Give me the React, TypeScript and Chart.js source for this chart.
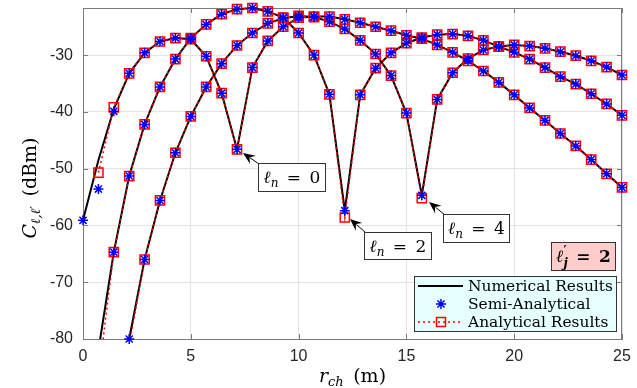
import React, { useEffect, useRef } from 'react';
import { Chart, registerables } from 'chart.js';

Chart.register(...registerables);

// ---- data -------------------------------------------------------------
const rCh = [0, 0.714, 1.429, 2.143, 2.857, 3.571, 4.286, 5.0, 5.714, 6.429, 7.143, 7.857,
  8.571, 9.286, 10.0, 10.714, 11.429, 12.143, 12.857, 13.571, 14.286, 15.0, 15.714, 16.429,
  17.143, 17.857, 18.571, 19.286, 20.0, 20.714, 21.429, 22.143, 22.857, 23.571, 24.286, 25.0];

// l_n = 0
const numL0 = [-59.1, -48.5, -39.5, -33.2, -29.6, -27.6, -27.0, -27.2, -30.2, -36.7, -46.6, -32.2,
  -27.5, -25.0, -23.4, -23.2, -23.2, -23.7, -24.3, -25.0, -25.7, -26.5, -27.1, -28.2,
  -29.5, -31.0, -32.8, -34.8, -37.0, -39.3, -41.5, -43.8, -46.0, -48.4, -50.9, -53.3];
const semiL0 = [-59.1, -53.6, -39.9, -33.2, -29.6, -27.6, -27.0, -27.2, -30.2, -36.7, -46.6, -32.2,
  -27.5, -25.0, -23.4, -23.2, -23.2, -23.7, -24.3, -25.0, -25.7, -26.5, -27.1, -28.2,
  -29.5, -31.0, -32.8, -34.8, -37.0, -39.3, -41.5, -43.8, -46.0, -48.4, -50.9, -53.3];
const anaL0 = [null, -50.7, -39.2, -33.2, -29.6, -27.6, -27.0, -27.2, -30.2, -36.7, -46.6, -32.2,
  -27.5, -25.0, -23.4, -23.2, -23.2, -23.7, -24.3, -25.0, -25.7, -26.5, -27.1, -28.2,
  -29.5, -31.0, -32.8, -34.8, -37.0, -39.3, -41.5, -43.8, -46.0, -48.4, -50.9, -53.3];

// l_n = 2
const numL2 = [-96, -82.0, -64.7, -51.3, -42.2, -35.6, -30.7, -27.0, -24.6, -22.8, -21.9, -21.7,
  -22.3, -23.4, -26.1, -30.0, -36.9, -57.4, -37.0, -32.3, -29.6, -27.9, -26.9, -26.4,
  -26.3, -26.6, -27.4, -28.5, -29.5, -30.7, -32.2, -33.8, -35.1, -36.8, -38.6, -40.6];
const semiL2 = [-96, -83.0, -64.7, -51.3, -42.2, -35.6, -30.7, -27.0, -24.6, -22.8, -21.9, -21.7,
  -22.3, -23.4, -26.1, -30.0, -36.9, -57.4, -37.0, -32.3, -29.6, -27.9, -26.9, -26.4,
  -26.3, -26.6, -27.4, -28.5, -29.5, -30.7, -32.2, -33.8, -35.1, -36.8, -38.6, -40.6];
const anaL2 = [-100, -86.7, -64.7, -51.3, -42.2, -35.6, -30.7, -27.0, -24.6, -22.8, -21.9, -21.7,
  -22.3, -23.4, -26.1, -30.0, -36.9, -58.6, -37.0, -32.3, -29.6, -27.9, -26.9, -26.4,
  -26.3, -26.6, -27.4, -28.5, -29.5, -30.7, -32.2, -33.8, -35.1, -36.8, -38.6, -40.6];

// l_n = 4
const numL4 = [-130, -118, -105, -80.0, -66.0, -55.6, -47.2, -40.8, -35.6, -31.5, -28.3, -26.1,
  -24.4, -23.5, -23.1, -23.3, -24.1, -25.4, -27.4, -29.8, -33.6, -40.2, -54.7, -37.8,
  -33.1, -30.6, -29.1, -28.5, -28.2, -28.4, -28.8, -29.4, -30.1, -31.0, -32.1, -33.5];
const semiL4 = [-130, -118, -105, -80.0, -66.0, -55.6, -47.2, -40.8, -35.6, -31.5, -28.3, -26.1,
  -24.4, -23.5, -23.1, -23.3, -24.1, -25.4, -27.4, -29.8, -33.6, -40.2, -54.7, -37.8,
  -33.1, -30.6, -29.1, -28.5, -28.2, -28.4, -28.8, -29.4, -30.1, -31.0, -32.1, -33.5];
const anaL4 = [-132, -120, -106, -81.0, -66.0, -55.6, -47.2, -40.8, -35.6, -31.5, -28.3, -26.1,
  -24.4, -23.5, -23.1, -23.3, -24.1, -25.4, -27.4, -29.8, -33.6, -40.2, -55.2, -37.8,
  -33.1, -30.6, -29.1, -28.5, -28.2, -28.4, -28.8, -29.4, -30.1, -31.0, -32.1, -33.5];

const xTicks = [0, 5, 10, 15, 20, 25];
const yTicks = [-80, -70, -60, -50, -40, -30];
const legendLabels = ['Numerical Results', 'Semi-Analytical', 'Analytical Results'];

// ---- styles -----------------------------------------------------------
const AXIS = '#7a7a7a';
const GRID = '#e3e3e3';
const SERIF = '"DejaVu Serif", "Liberation Serif", serif';
const SANS = '"Liberation Sans", Arial, sans-serif';

type Seg = { t: string; size: number; italic?: boolean; bold?: boolean; dy?: number; stack?: boolean };

function segFont(s: Seg) {
  return `${s.italic ? 'italic ' : ''}${s.bold ? 'bold ' : ''}${s.size}px ${SERIF}`;
}

function segsWidth(ctx: CanvasRenderingContext2D, segs: Seg[]) {
  let w = 0;
  let pend = 0;
  for (const s of segs) {
    ctx.font = segFont(s);
    const m = ctx.measureText(s.t).width;
    if (s.stack) { pend = m; continue; }
    w += Math.max(m, pend);
    pend = 0;
  }
  return w + pend;
}

function drawSegs(ctx: CanvasRenderingContext2D, segs: Seg[], x: number, y: number, center = true) {
  const total = segsWidth(ctx, segs);
  let cx = center ? x - total / 2 : x;
  let pend = 0;
  ctx.textBaseline = 'alphabetic';
  ctx.textAlign = 'left';
  for (const s of segs) {
    ctx.font = segFont(s);
    const m = ctx.measureText(s.t).width;
    ctx.fillText(s.t, cx, y + (s.dy || 0));
    if (s.stack) { pend = m; continue; }
    cx += Math.max(m, pend);
    pend = 0;
  }
}

function arrow(ctx: CanvasRenderingContext2D, x1: number, y1: number, x2: number, y2: number) {
  const a = Math.atan2(y2 - y1, x2 - x1);
  const c = Math.cos(a), s = Math.sin(a);
  const L = 12, W = 5;
  ctx.beginPath();
  ctx.moveTo(x1, y1);
  ctx.lineTo(x2 - 0.7 * L * c, y2 - 0.7 * L * s);
  ctx.stroke();
  ctx.beginPath();
  ctx.moveTo(x2, y2);
  ctx.lineTo(x2 - L * c + W * s, y2 - L * s - W * c);
  ctx.lineTo(x2 - 0.65 * L * c, y2 - 0.65 * L * s);
  ctx.lineTo(x2 - L * c - W * s, y2 - L * s + W * c);
  ctx.closePath();
  ctx.fill();
}

function textBox(ctx: CanvasRenderingContext2D, x1: number, y1: number, x2: number, y2: number, fill: string) {
  ctx.fillStyle = fill;
  ctx.fillRect(x1, y1, x2 - x1, y2 - y1);
  ctx.strokeStyle = '#333';
  ctx.lineWidth = 1;
  ctx.strokeRect(x1 + 0.5, y1 + 0.5, x2 - x1 - 1, y2 - y1 - 1);
}

function drawStar(ctx: CanvasRenderingContext2D, x: number, y: number, r: number) {
  const d = r * Math.SQRT1_2;
  ctx.beginPath();
  ctx.moveTo(x - r, y); ctx.lineTo(x + r, y);
  ctx.moveTo(x, y - r); ctx.lineTo(x, y + r);
  ctx.moveTo(x - d, y - d); ctx.lineTo(x + d, y + d);
  ctx.moveTo(x - d, y + d); ctx.lineTo(x + d, y - d);
  ctx.stroke();
}

const framePlugin = {
  id: 'frame',
  beforeDatasetsDraw(chart: any) {
    const ctx: CanvasRenderingContext2D = chart.ctx;
    const { left, right, top, bottom } = chart.chartArea;
    const xs = chart.scales.x, ys = chart.scales.y;
    ctx.save();
    ctx.strokeStyle = AXIS;
    ctx.lineWidth = 1;
    ctx.beginPath();
    ctx.moveTo(left, top + 0.5); ctx.lineTo(right, top + 0.5);
    ctx.moveTo(right - 0.5, top); ctx.lineTo(right - 0.5, bottom);
    for (const v of xTicks) {
      const px = Math.round(xs.getPixelForValue(v)) + 0.5;
      ctx.moveTo(px, bottom); ctx.lineTo(px, bottom - 5);
      ctx.moveTo(px, top); ctx.lineTo(px, top + 5);
    }
    for (const v of yTicks) {
      const py = Math.round(ys.getPixelForValue(v)) + 0.5;
      ctx.moveTo(left, py); ctx.lineTo(left + 5, py);
      ctx.moveTo(right, py); ctx.lineTo(right - 5, py);
    }
    ctx.stroke();
    ctx.restore();
  },
  afterDraw(chart: any) {
    const ctx: CanvasRenderingContext2D = chart.ctx;
    const { left, right } = chart.chartArea;
    ctx.save();
    ctx.fillStyle = '#000';

    // axis titles
    drawSegs(ctx, [
      { t: 'r', size: 19, italic: true },
      { t: 'ch', size: 13, italic: true, dy: 4 },
      { t: '\u2002(m)', size: 19 },
    ], (left + right) / 2, 382);

    ctx.save();
    ctx.translate(36, 188);
    ctx.rotate(-Math.PI / 2);
    ctx.fillStyle = '#000';
    drawSegs(ctx, [
      { t: 'C', size: 19, italic: true },
      { t: '\u2113,\u2113\u2032', size: 13, italic: true, dy: 4 },
      { t: '\u2002(dBm)', size: 19 },
    ], 0, 0);
    ctx.restore();

    // annotation boxes + arrows
    ctx.strokeStyle = '#000';
    ctx.fillStyle = '#000';
    ctx.lineWidth = 1;
    arrow(ctx, 259, 164, 243, 153);
    arrow(ctx, 365, 232, 350, 219);
    arrow(ctx, 445, 215, 429, 202);

    const ann = [
      { box: [258, 163, 326, 192], val: '0' },
      { box: [364, 232, 432, 260], val: '2' },
      { box: [443, 214, 510, 243], val: '4' },
    ];
    for (const a of ann) {
      const [x1, y1, x2, y2] = a.box;
      textBox(ctx, x1, y1, x2, y2, '#ffffff');
      ctx.fillStyle = '#000';
      drawSegs(ctx, [
        { t: '\u2113', size: 17, italic: true },
        { t: 'n', size: 12, italic: true, dy: 4 },
        { t: '\u2002=\u2002' + a.val, size: 17 },
      ], (x1 + x2) / 2, y1 + 20);
    }

    // l'_j = 2 box
    textBox(ctx, 551, 242, 616, 271, '#ffcccc');
    ctx.fillStyle = '#000';
    drawSegs(ctx, [
      { t: '\u2113', size: 17, italic: true, bold: true },
      { t: '\u2032', size: 12, bold: true, dy: -7, stack: true },
      { t: 'j', size: 12, italic: true, bold: true, dy: 5 },
      { t: '\u2002=\u20022', size: 17, bold: true },
    ], 583.5, 262);

    // legend
    const lx1 = 414, ly1 = 276, lx2 = 617, ly2 = 332;
    textBox(ctx, lx1, ly1, lx2, ly2, '#e6ffff');
    const rows = [286, 304, 322];
    ctx.strokeStyle = '#000';
    ctx.lineWidth = 2;
    ctx.beginPath(); ctx.moveTo(418, rows[0]); ctx.lineTo(463, rows[0]); ctx.stroke();
    ctx.strokeStyle = '#0000ff';
    ctx.lineWidth = 1.5;
    drawStar(ctx, 441, rows[1], 5);
    ctx.strokeStyle = '#ff0000';
    ctx.lineWidth = 1.5;
    ctx.setLineDash([2, 3]);
    ctx.beginPath(); ctx.moveTo(418, rows[2]); ctx.lineTo(463, rows[2]); ctx.stroke();
    ctx.setLineDash([]);
    ctx.strokeRect(441 - 4.5, rows[2] - 4.5, 9, 9);

    ctx.font = `14px ${SERIF}`;
    const w14 = ctx.measureText(legendLabels[0]).width;
    const fs = Math.max(11, Math.min(18, 14 * 145 / w14));
    ctx.font = `${fs.toFixed(2)}px ${SERIF}`;
    ctx.fillStyle = '#000';
    ctx.textAlign = 'left';
    ctx.textBaseline = 'middle';
    legendLabels.forEach((t, i) => ctx.fillText(t, 468, rows[i] + 1));

    ctx.restore();
  },
};

function pts(ys: (number | null)[]) {
  return rCh.map((x, i) => ({ x, y: ys[i] }));
}

function numSet(ys: (number | null)[]) {
  return {
    data: pts(ys), borderColor: '#000000', borderWidth: 2, pointRadius: 0, showLine: true,
    tension: 0, order: 2, clip: { left: 10, right: 10, top: 10, bottom: 0 },
  };
}
function semiSet(ys: (number | null)[]) {
  return {
    data: pts(ys), showLine: false, pointStyle: 'star', pointRadius: 5,
    pointBorderColor: '#0000ff', pointBackgroundColor: '#0000ff', pointBorderWidth: 1.5,
    borderColor: '#0000ff', order: 0, clip: { left: 10, right: 10, top: 10, bottom: 6 },
  };
}
function anaSet(ys: (number | null)[]) {
  return {
    data: pts(ys), showLine: true, borderColor: '#ff0000', borderWidth: 1.5, borderDash: [2, 3],
    pointStyle: 'rect', pointRadius: 6.5, pointBorderColor: '#ff0000',
    pointBackgroundColor: 'rgba(0,0,0,0)', pointBorderWidth: 1.5, tension: 0, spanGaps: false,
    order: 1, clip: { left: 10, right: 10, top: 10, bottom: 0 },
  };
}

const zeroPad = (s: any) => {
  s.paddingTop = 0; s.paddingBottom = 0; s.paddingLeft = 0; s.paddingRight = 0;
};

export default function App() {
  const ref = useRef<HTMLCanvasElement>(null);
  useEffect(() => {
    if (!ref.current) return;
    const chart = new Chart(ref.current, {
      type: 'line',
      data: {
        datasets: [
          semiSet(semiL0), semiSet(semiL2), semiSet(semiL4),
          anaSet(anaL0), anaSet(anaL2), anaSet(anaL4),
          numSet(numL0), numSet(numL2), numSet(numL4),
        ] as any,
      },
      options: {
        animation: false,
        responsive: false,
        devicePixelRatio: 1,
        layout: { padding: { top: 7, right: 15, left: 0, bottom: 0 } },
        plugins: { legend: { display: false }, tooltip: { enabled: false } },
        scales: {
          x: {
            type: 'linear', min: 0, max: 25,
            afterBuildTicks: (s: any) => { s.ticks = xTicks.map((v) => ({ value: v })); },
            afterFit: (s: any) => { s.height = 49; zeroPad(s); },
            ticks: { color: '#262626', font: { family: SANS, size: 16 }, padding: 8, maxRotation: 0 },
            grid: { color: GRID, drawTicks: false, lineWidth: 1 },
            border: { color: AXIS, width: 1 },
          },
          y: {
            type: 'linear', min: -80, max: -21.7,
            afterBuildTicks: (s: any) => { s.ticks = yTicks.map((v) => ({ value: v })); },
            afterFit: (s: any) => { s.width = 83; zeroPad(s); },
            ticks: { color: '#262626', font: { family: SANS, size: 16 }, padding: 10 },
            grid: { color: GRID, drawTicks: false, lineWidth: 1 },
            border: { color: AXIS, width: 1 },
          },
        },
      } as any,
      plugins: [framePlugin],
    });
    return () => chart.destroy();
  }, []);
  return (
    <div style={{ position: 'absolute', left: 0, top: 0, width: 637, height: 388, background: '#fff' }}>
      <canvas ref={ref} width={637} height={388} style={{ display: 'block', width: 637, height: 388 }} />
    </div>
  );
}
